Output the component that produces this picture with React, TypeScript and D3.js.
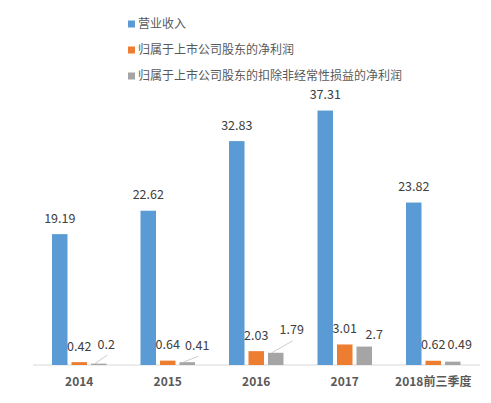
import React from 'react';
import * as d3 from 'd3';

const categories = ['2014', '2015', '2016', '2017', '2018前三季度'];
const seriesNames = ['营业收入', '归属于上市公司股东的净利润', '归属于上市公司股东的扣除非经常性损益的净利润'];
const revenue = [19.19, 22.62, 32.83, 37.31, 23.82];
const netProfit = [0.42, 0.64, 2.03, 3.01, 0.62];
const netProfitExcl = [0.2, 0.41, 1.79, 2.7, 0.49];
const colors = ['#5B9BD5', '#ED7D31', '#A5A5A5'];

// labels that were dragged by hand in the original (series-category)
const labelNudge: Record<string, { dx: number; dy: number; leader?: boolean }> = {
    '2-0': { dx: 7.5, dy: -3.5, leader: true },
    '2-1': { dx: 10, dy: -1, leader: true },
    '2-2': { dx: 16, dy: -7, leader: true },
    '2-3': { dx: 10, dy: 4 },
    '1-4': { dx: 0, dy: 0 },
    '2-4': { dx: 7, dy: -1 },
};

const W = 491;
const H = 403;
const FONT = '"Noto Sans CJK SC", "Noto Sans", sans-serif';

export default function App() {
    const values = [revenue, netProfit, netProfitExcl];
    const base = 365;

    const x = d3.scaleBand<string>()
        .domain(categories)
        .range([35, 477.5]);

    const bw = x.bandwidth();
    const inner = d3.scaleBand<number>()
        .domain([0, 1, 2])
        .range([bw / 2 - 29.25, bw / 2 + 29.25])
        .paddingInner(0.205)
        .paddingOuter(0.1025);

    const y = d3.scaleLinear()
        .domain([0, 40])
        .range([base, base - 40 * 6.82]);

    return (
        <div style={{ position: 'fixed', left: 0, top: 0, width: W, height: H, background: '#fff' }}>
            <svg width={W} height={H} style={{ display: 'block', fontFamily: FONT }}>
                {/* legend */}
                {seriesNames.map((name, i) => (
                    <g key={name} transform={`translate(128,${24 + i * 26})`}>
                        <rect x={0} y={-3.5} width={7} height={7} fill={colors[i]} />
                        <text x={10} y={0} dy="0.36em" fontSize={12} fill="#595959">{name}</text>
                    </g>
                ))}

                {/* axis */}
                <line x1={33} x2={480} y1={base} y2={base} stroke="#D9D9D9" strokeWidth={1} />
                {categories.map(c => (
                    <text key={c} x={x(c)! + bw / 2} y={base + 17} dy="0.36em" textAnchor="middle"
                        fontSize={12} fontWeight="bold" fill="#595959">{c}</text>
                ))}

                {/* bars */}
                {values.map((vals, s) => (
                    <g key={s}>
                        {vals.map((v, i) => (
                            <rect key={i} x={x(categories[i])! + inner(s)!} y={y(v)}
                                width={inner.bandwidth()} height={base - y(v)} fill={colors[s]} />
                        ))}
                    </g>
                ))}

                {/* value labels */}
                {values.map((vals, s) => vals.map((v, i) => {
                    const cx = x(categories[i])! + inner(s)! + inner.bandwidth() / 2;
                    const nudge = labelNudge[`${s}-${i}`] || { dx: 0, dy: 0 };
                    const lx = cx + nudge.dx;
                    const ly = y(v) - 16 + nudge.dy;
                    return (
                        <g key={`${s}-${i}`}>
                            {nudge.leader && (
                                <line x1={cx - 4} y1={y(v)} x2={lx + 1} y2={ly + 11}
                                    stroke="#BFBFBF" strokeWidth={0.8} />
                            )}
                            <text x={lx} y={ly} dy="0.36em" textAnchor="middle" fontSize={12.5} fill="#404040">
                                {v}
                            </text>
                        </g>
                    );
                }))}
            </svg>
        </div>
    );
}
